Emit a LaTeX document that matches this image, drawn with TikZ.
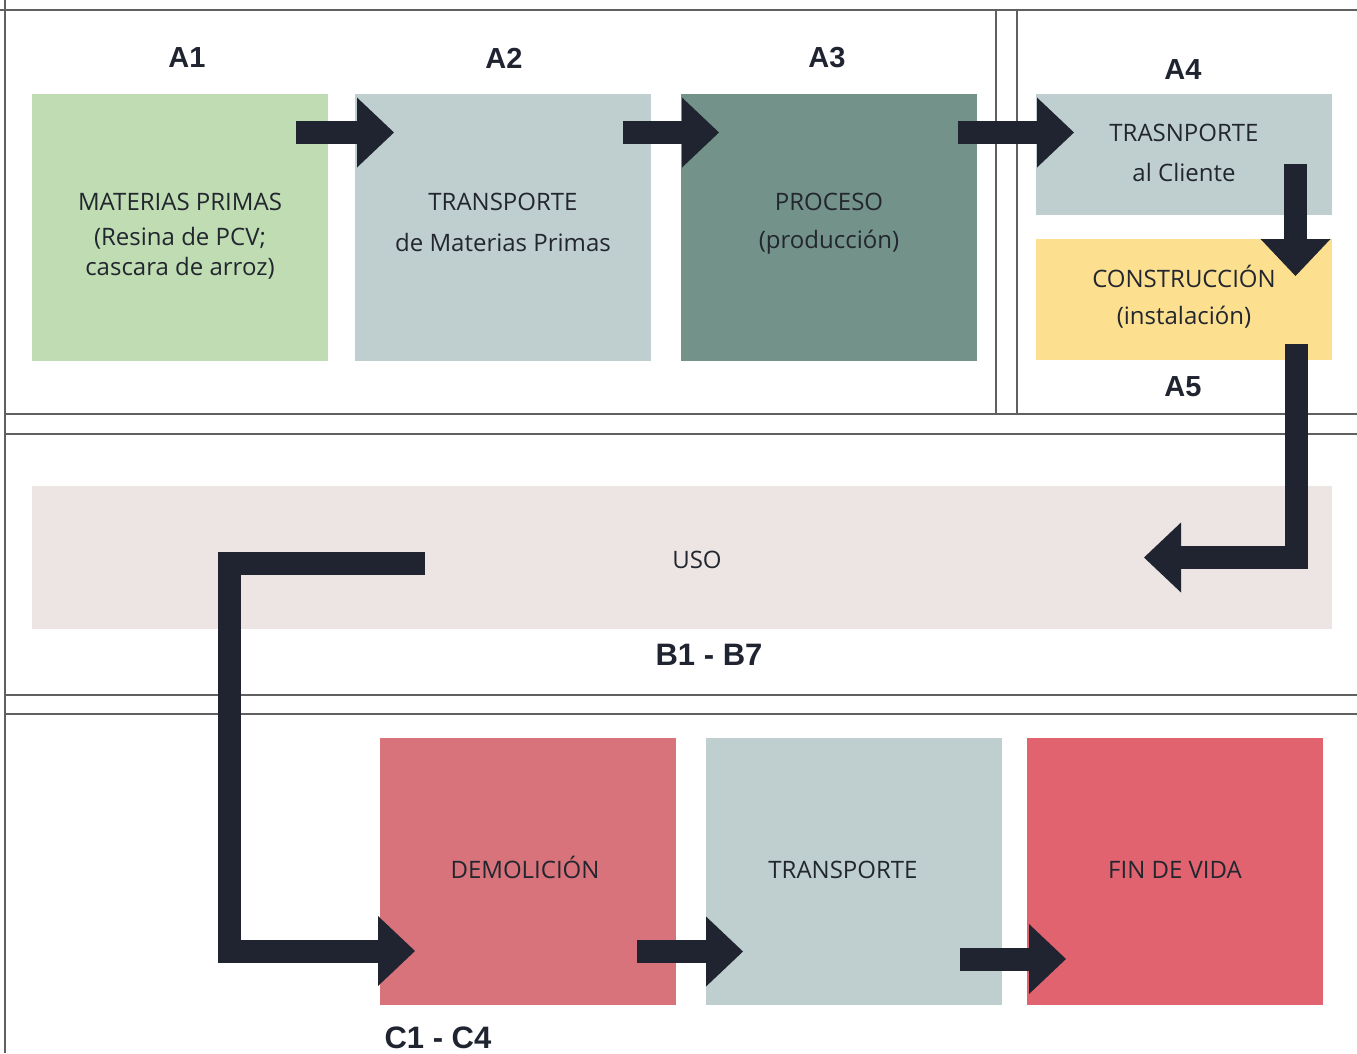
\documentclass[tikz,border=0pt]{standalone}
\usepackage{fontspec}
\setmainfont{Open Sans}
\newfontfamily\headfont{Liberation Sans}
\usetikzlibrary{arrows.meta}
\definecolor{cGreen}{HTML}{BFDCB3}
\definecolor{cBlue}{HTML}{BFCFCF}
\definecolor{cDark}{HTML}{739289}
\definecolor{cYellow}{HTML}{FDE08F}
\definecolor{cUso}{HTML}{EDE5E4}
\definecolor{cDemo}{HTML}{D9737B}
\definecolor{cFin}{HTML}{E0636F}
\definecolor{cArrow}{HTML}{1F2430}
\definecolor{cText}{HTML}{22262E}
\definecolor{cLine}{HTML}{606060}
\tikzset{
  box/.style={draw=none, inner sep=0pt, outer sep=0pt, anchor=north west},
  lbl/.style={text=cText, font=\fontsize{24}{28}\selectfont, inner sep=0pt},
  head/.style={text=cArrow, font=\headfont\bfseries\fontsize{29}{32}\selectfont, inner sep=0pt},
  headw/.style={text=cArrow, font=\headfont\bfseries\fontsize{31}{34}\selectfont, inner sep=0pt},
  gridline/.style={draw=cLine, line width=1.4pt},
  flow/.style={draw=cArrow, line width=23pt, line join=miter,
    -{Triangle[length=37pt,width=70pt,line width=0pt]}}
}
\begin{document}
\begin{tikzpicture}[x=1pt,y=-1pt]
\useasboundingbox (0,0) rectangle (1357,1053);
% grid
\draw[gridline] (0,10) -- (1357,10);
\draw[gridline] (5,0) -- (5,1053);
\draw[gridline] (5,414) -- (1357,414);
\draw[gridline] (5,434) -- (1357,434);
\draw[gridline] (5,695) -- (1357,695);
\draw[gridline] (5,714) -- (1357,714);
\draw[gridline] (996,10) -- (996,414);
\draw[gridline] (1017,10) -- (1017,414);
% boxes
\node[box, fill=cGreen, minimum width=296pt, minimum height=267pt] (a1) at (32,94) {};
\node[box, fill=cBlue, minimum width=296pt, minimum height=267pt] (a2) at (355,94) {};
\node[box, fill=cDark, minimum width=296pt, minimum height=267pt] (a3) at (681,94) {};
\node[box, fill=cBlue, minimum width=296pt, minimum height=121pt] (a4) at (1036,94) {};
\node[box, fill=cYellow, minimum width=296pt, minimum height=121pt] (a5) at (1036,239) {};
\node[box, fill=cUso, minimum width=1300pt, minimum height=143pt] (uso) at (32,486) {};
\node[box, fill=cDemo, minimum width=296pt, minimum height=267pt] (c1) at (380,738) {};
\node[box, fill=cBlue, minimum width=296pt, minimum height=267pt] (c2) at (706,738) {};
\node[box, fill=cFin, minimum width=296pt, minimum height=267pt] (c3) at (1027,738) {};
% headings
\node[head] (hA1) at (187,58) {A1};
\node[head] (hA2) at (504,58) {A2};
\node[head] (hA3) at (827,58) {A3};
\node[head] (hA4) at (1183,70) {A4};
\node[head] (hA5) at (1183,387) {A5};
\node[headw] (hB) at (709,655) {B1 - B7};
\node[headw] (hC) at (438,1038) {C1 - C4};
% labels
\node[lbl] (t1a) at (180,202) {MATERIAS PRIMAS};
\node[lbl] (t1b) at (180,238) {(Resina de PCV;};
\node[lbl] (t1c) at (180,268) {cascara de arroz)};
\node[lbl] (t2a) at (503,202) {TRANSPORTE};
\node[lbl] (t2b) at (503,242) {de Materias Primas};
\node[lbl] (t3a) at (829,202) {PROCESO};
\node[lbl] (t3b) at (829,242) {(producción)};
\node[lbl] (t4a) at (1184,133) {TRASNPORTE};
\node[lbl] (t4b) at (1184,172) {al Cliente};
\node[lbl] (t5a) at (1184,276) {CONSTRUCCIÓN};
\node[lbl] (t5b) at (1184,317) {(instalación)};
\node[lbl] (tuso) at (697,560) {USO};
\node[lbl] (tc1) at (525,867) {DEMOLICIÓN};
\node[lbl] (tc2) at (843,870) {TRANSPORTE};
\node[lbl] (tc3) at (1175,870) {FIN DE VIDA};
% arrow coordinates
\coordinate (p1s) at (296,132.5);
\coordinate (p1e) at (394,132.5);
\coordinate (p2s) at (623,132.5);
\coordinate (p2e) at (719,132.5);
\coordinate (p3s) at (958,132.5);
\coordinate (p3e) at (1074,132.5);
\coordinate (p4s) at (1295.5,164);
\coordinate (p4e) at (1295.5,276);
\coordinate (p5s) at (1296,344);
\coordinate (p5m) at (1296,557.5);
\coordinate (p5e) at (1144,557.5);
\coordinate (p6s) at (425,563);
\coordinate (p6m) at (229,563);
\coordinate (p6n) at (229,951);
\coordinate (p6e) at (415,951);
\coordinate (p7s) at (637,951.5);
\coordinate (p7e) at (743,951.5);
\coordinate (p8s) at (960,959);
\coordinate (p8e) at (1066,959);
% arrows
\draw[flow] (p1s) -- (p1e);
\draw[flow] (p2s) -- (p2e);
\draw[flow] (p3s) -- (p3e);
\draw[flow] (p4s) -- (p4e);
\draw[flow] (p5s) -- (p5m) -- (p5e);
\draw[flow] (p6s) -- (p6m) -- (p6n) -- (p6e);
\draw[flow] (p7s) -- (p7e);
\draw[flow] (p8s) -- (p8e);
\end{tikzpicture}
\end{document}
